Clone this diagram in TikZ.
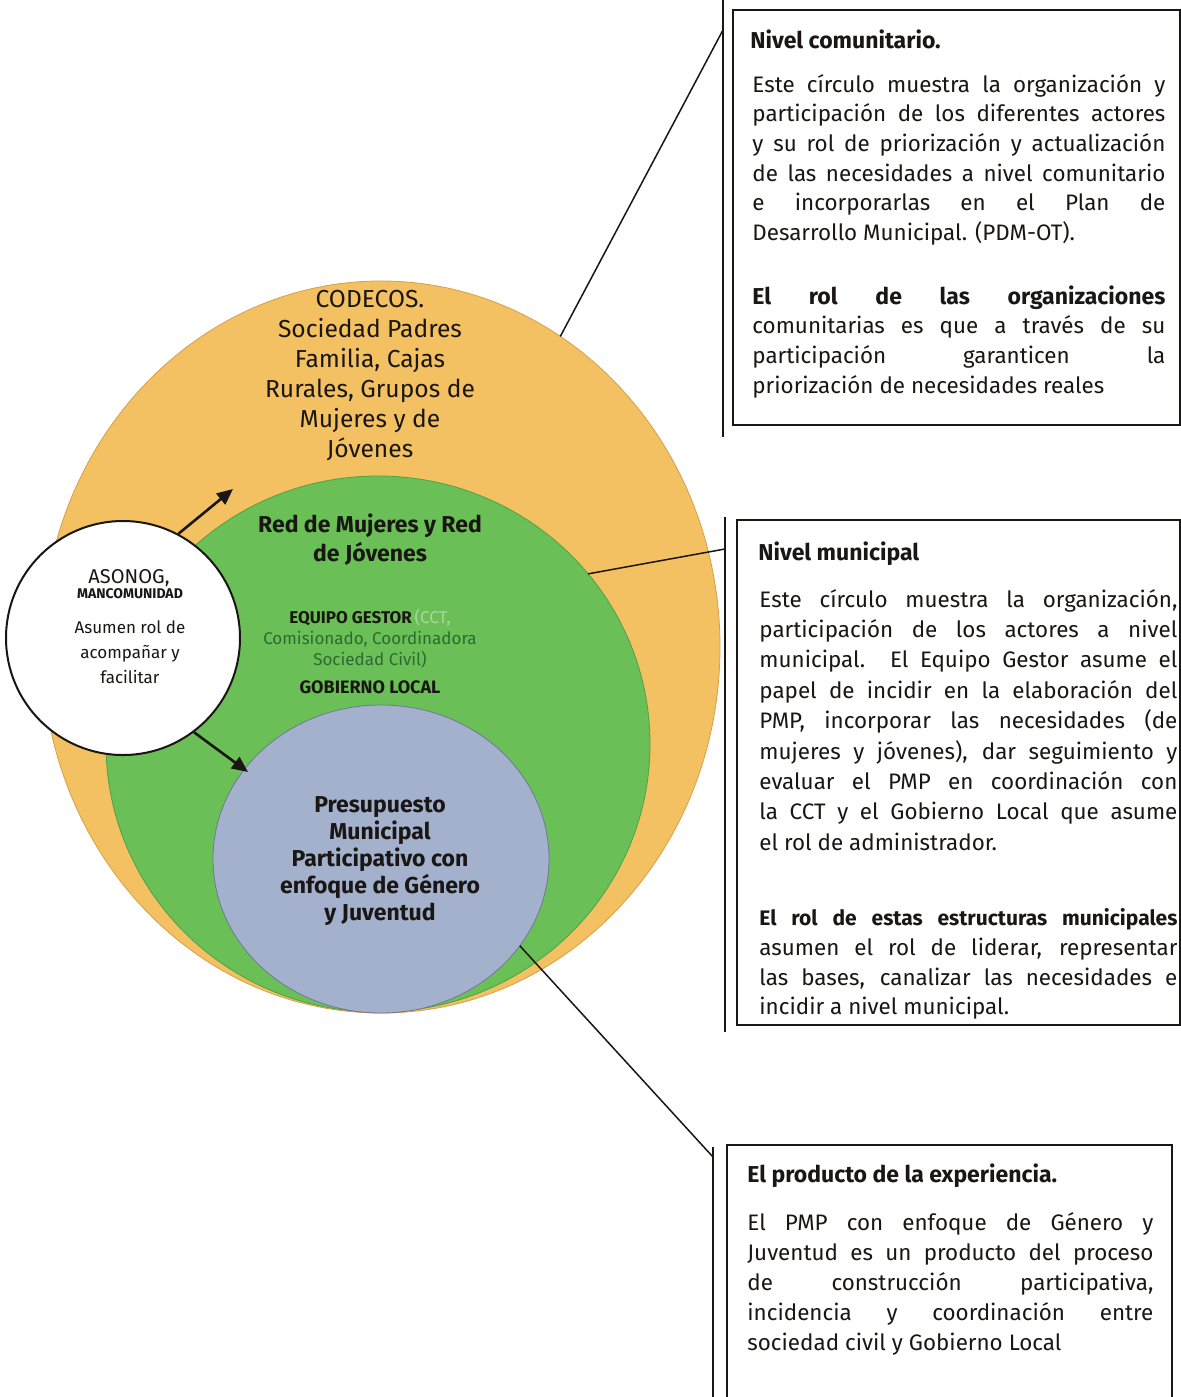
\documentclass[tikz,border=0pt]{standalone}
\usepackage{fontspec}
\setmainfont{Fira Sans}
\usetikzlibrary{shapes.geometric,arrows.meta}
\definecolor{corange}{RGB}{243,192,98}
\definecolor{corangeedge}{RGB}{214,160,72}
\definecolor{cgreen}{RGB}{106,192,86}
\definecolor{cgreenedge}{RGB}{80,160,70}
\definecolor{cblue}{RGB}{164,177,205}
\definecolor{cblueedge}{RGB}{110,120,150}
\definecolor{ink}{RGB}{25,22,20}
\definecolor{lgreentxt}{RGB}{170,215,160}
\definecolor{dgreentxt}{RGB}{45,105,50}
\newcommand\bodyfont{\fontsize{11.2}{15}\selectfont}
\newcommand\headfont{\fontsize{11.5}{15}\selectfont\bfseries}
\newcommand\boldlinefont{\fontsize{10.5}{15}\selectfont\bfseries}
\begin{document}
\begin{tikzpicture}[x=0.5pt,y=-0.5pt,
  ring/.style={ellipse, inner sep=0pt, outer sep=0pt, line width=0.4pt},
  jl/.style={anchor=base west, inner sep=0pt, text=ink, font=\bodyfont},
  hd/.style={anchor=base west, inner sep=0pt, text=ink, font=\headfont},
  bl/.style={anchor=base west, inner sep=0pt, text=ink, font=\boldlinefont},
  ctxt/.style={align=center, inner sep=0pt, text=ink},
  arr/.style={line width=1.3pt, draw=ink, -{Triangle[length=8pt,width=7pt]}},
  conn/.style={line width=0.75pt, draw=ink},
  bar/.style={line width=1.2pt, draw=ink},
  frame/.style={line width=1.1pt, draw=ink}]
\useasboundingbox (0,0) rectangle (1181,1397);
\fill[white] (0,0) rectangle (1181,1397);

% concentric levels
\node[ring, fill=corange, draw=corangeedge, minimum width=339pt, minimum height=366pt] (orange) at (381,647) {};
\node[ring, fill=cgreen, draw=cgreenedge, minimum width=272pt, minimum height=268pt] (green) at (378,744) {};
\node[ring, fill=cblue, draw=cblueedge, minimum width=168pt, minimum height=154pt] (blue) at (381,859) {};

% circle texts
\node[ctxt, font=\fontsize{12.3}{15}\selectfont] (otxt) at (370,376) {CODECOS.\\Sociedad Padres\\Familia, Cajas\\Rurales, Grupos de\\Mujeres y de\\Jóvenes};
\node[ctxt, font=\fontsize{11.5}{14.5}\selectfont\bfseries] (gtxt) at (370,540) {Red de Mujeres y Red\\de Jóvenes};
\node[ctxt, font=\fontsize{8.5}{10.5}\selectfont] (gsmall) at (370,639) {\textbf{EQUIPO GESTOR}\,{\color{lgreentxt}(CCT,}\\{\color{dgreentxt}Comisionado, Coordinadora}\\{\color{dgreentxt}Sociedad Civil)}};
\node[ctxt, font=\fontsize{9}{10.5}\selectfont\bfseries] (gob) at (370,687) {GOBIERNO LOCAL};
\node[ctxt, font=\fontsize{11.5}{13.5}\selectfont\bfseries] (btxt) at (380,861) {Presupuesto\\Municipal\\Participativo con\\enfoque de Género\\y Juventud};

% ASONOG circle
\node[circle, draw=ink, line width=1pt, fill=white, minimum size=117pt, inner sep=0pt] (ason) at (123,638) {};
\node[ctxt, font=\fontsize{10}{12}\selectfont] (asn1) at (129,578) {ASONOG,};
\node[ctxt, font=\fontsize{7}{8}\selectfont\bfseries] (asn2) at (130,594) {MANCOMUNIDAD};
\node[ctxt, font=\fontsize{8.5}{12.5}\selectfont] (asn3) at (130,652) {Asumen rol de\\acompañar y\\facilitar};
\coordinate (a1end) at (233,489);
\coordinate (a2end) at (248,772);
\draw[arr] (ason.62) -- (a1end);
\draw[arr] (ason.-53) -- (a2end);

% box 1
\coordinate (bar1top) at (723,0);
\coordinate (bar1bot) at (723,437);
\coordinate (c1) at (723,30);
\draw[bar] (bar1top) -- (bar1bot);
\draw[conn] (orange.60.5) -- (c1);
\draw[frame] (733,10) rectangle (1180,425);
\node[hd] (t1) at (750,48) {Nivel comunitario.};
\node[jl] (p1a) at (752,92) {\makebox[206.5pt][s]{Este círculo muestra la organización y}};
\node[jl] (p1b) at (752,121.7) {\makebox[206.5pt][s]{participación de los diferentes actores}};
\node[jl] (p1c) at (752,151.4) {\makebox[206.5pt][s]{y su rol de priorización y actualización}};
\node[jl] (p1d) at (752,181.1) {\makebox[206.5pt][s]{de las necesidades a nivel comunitario}};
\node[jl] (p1e) at (752,210.8) {\makebox[206.5pt][s]{e incorporarlas en el Plan de}};
\node[jl] (p1f) at (752,240.5) {Desarrollo Municipal. (PDM-OT).};
\node[hd] (q1a) at (752,304) {\makebox[206.5pt][s]{El rol de las organizaciones}};
\node[jl] (q1b) at (752,333.7) {\makebox[206.5pt][s]{comunitarias es que a través de su}};
\node[jl] (q1c) at (752,363.4) {\makebox[206.5pt][s]{participación garanticen la}};
\node[jl] (q1d) at (752,393) {priorización de necesidades reales};

% box 2
\coordinate (bar2top) at (725,517);
\coordinate (bar2bot) at (725,1032);
\coordinate (c2) at (725,549);
\draw[bar] (bar2top) -- (bar2bot);
\draw[conn] (green.39.7) -- (c2);
\draw[frame] (737,520) rectangle (1180,1025);
\node[hd] (t2) at (758,560) {Nivel municipal};
\node[jl] (p2a) at (759,607) {\makebox[209pt][s]{Este círculo muestra la organización,}};
\node[jl] (p2b) at (759,637.4) {\makebox[209pt][s]{participación de los actores a nivel}};
\node[jl] (p2c) at (759,667.8) {\makebox[209pt][s]{municipal. El Equipo Gestor asume el}};
\node[jl] (p2d) at (759,698.2) {\makebox[209pt][s]{papel de incidir en la elaboración del}};
\node[jl] (p2e) at (759,728.6) {\makebox[209pt][s]{PMP, incorporar las necesidades (de}};
\node[jl] (p2f) at (759,759) {\makebox[209pt][s]{mujeres y jóvenes), dar seguimiento y}};
\node[jl] (p2g) at (759,789.4) {\makebox[209pt][s]{evaluar el PMP en coordinación con}};
\node[jl] (p2h) at (759,819.8) {\makebox[209pt][s]{la CCT y el Gobierno Local que asume}};
\node[jl] (p2i) at (759,850.2) {el rol de administrador.};
\node[bl] (q2a) at (759,925) {\makebox[209pt][s]{El rol de estas estructuras municipales}};
\node[jl] (q2b) at (759,955) {\makebox[209pt][s]{asumen el rol de liderar, representar}};
\node[jl] (q2c) at (759,985) {\makebox[209pt][s]{las bases, canalizar las necesidades e}};
\node[jl] (q2d) at (759,1014) {incidir a nivel municipal.};

% box 3
\coordinate (bar3top) at (713,1147);
\coordinate (bar3bot) at (713,1400);
\coordinate (c3) at (713,1157);
\draw[bar] (bar3top) -- (bar3bot);
\draw[conn] (blue.-32) -- (c3);
\draw[frame] (727,1145) rectangle (1172,1410);
\node[hd] (t3) at (747,1182) {El producto de la experiencia.};
\node[jl] (p3a) at (747,1230) {\makebox[203pt][s]{El PMP con enfoque de Género y}};
\node[jl] (p3b) at (747,1260) {\makebox[203pt][s]{Juventud es un producto del proceso}};
\node[jl] (p3c) at (747,1290) {\makebox[203pt][s]{de construcción participativa,}};
\node[jl] (p3d) at (747,1320) {\makebox[203pt][s]{incidencia y coordinación entre}};
\node[jl] (p3e) at (747,1350) {sociedad civil y Gobierno Local};
\end{tikzpicture}
\end{document}
